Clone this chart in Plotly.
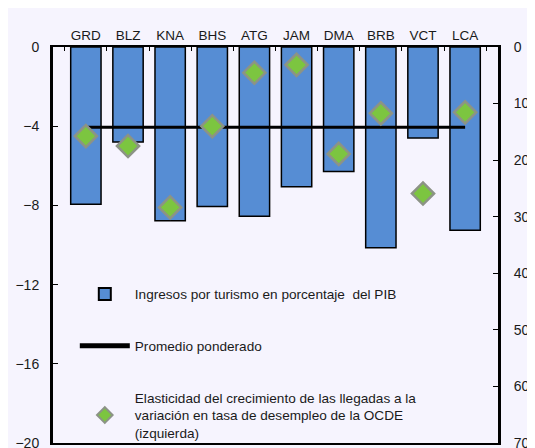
import plotly.graph_objects as go

paises = ['GRD', 'BLZ', 'KNA', 'BHS', 'ATG', 'JAM', 'DMA', 'BRB', 'VCT', 'LCA']
ingresos_turismo = [27.8, 16.8, 30.7, 28.2, 29.9, 24.7, 22.0, 35.5, 16.1, 32.4]
elasticidad = [-4.5, -5.0, -8.1, -4.0, -1.3, -0.9, -5.4, -3.35, -7.4, -3.3]
promedio = [-4.05] * len(paises)

bg = '#F6F4FE'
txt = '#1A1A1A'

fig = go.Figure()

# bars on the right axis (drawn underneath)
fig.add_trace(go.Bar(
    x=paises, y=ingresos_turismo, yaxis='y',
    name='Ingresos por turismo en porcentaje  del PIB',
    marker=dict(color='#568DD4', line=dict(color='black', width=1.5)),
    legendgroup='a'))

fig.add_trace(go.Scatter(
    x=paises, y=promedio, yaxis='y2', mode='lines',
    name='Promedio ponderado',
    line=dict(color='black', width=3),
    legendgroup='b'))

fig.add_trace(go.Scatter(
    x=paises, y=elasticidad, yaxis='y2', mode='markers',
    name='Elasticidad del crecimiento de las llegadas a la<br>'
         'variación en tasa de desempleo de la OCDE<br>(izquierda)',
    marker=dict(symbol='diamond', size=17, color='#7CC540',
                line=dict(color='#8C9386', width=2.5)),
    legendgroup='c'))

# page body adds an 8px offset, margins take that into account
fig.update_layout(
    width=535, height=448,
    margin=dict(l=45, r=45, t=39, b=13, autoexpand=False),
    paper_bgcolor=bg, plot_bgcolor=bg,
    font=dict(family='Liberation Sans, Arial, sans-serif', size=14, color=txt),
    bargap=0.28,
    showlegend=True,
    legend=dict(x=0.049, y=0.415, xanchor='left', yanchor='top',
                bgcolor='rgba(0,0,0,0)', font=dict(size=13.6, color=txt),
                tracegroupgap=31, itemsizing='constant', itemwidth=50),
    xaxis=dict(type='category', side='top', showline=True, linecolor='black',
               linewidth=2, mirror=True, ticks='inside', tickson='boundaries',
               ticklen=4, tickcolor='black', tickfont=dict(size=13.5),
               showgrid=False, automargin=False),
    yaxis=dict(side='right', range=[70, 0], tickvals=[0, 10, 20, 30, 40, 50, 60, 70],
               showline=True, linecolor='black', linewidth=3, ticks='inside',
               ticklen=5, tickcolor='black', showgrid=False, zeroline=False,
               ticklabelstandoff=10, automargin=False),
    yaxis2=dict(side='left', overlaying='y', range=[-20, 0],
                tickvals=[0, -4, -8, -12, -16, -20],
                showline=True, linecolor='black', linewidth=3, ticks='inside',
                ticklen=5, tickcolor='black', showgrid=False, zeroline=False,
                ticklabelstandoff=8, automargin=False),
)

fig.write_html("out.html")
